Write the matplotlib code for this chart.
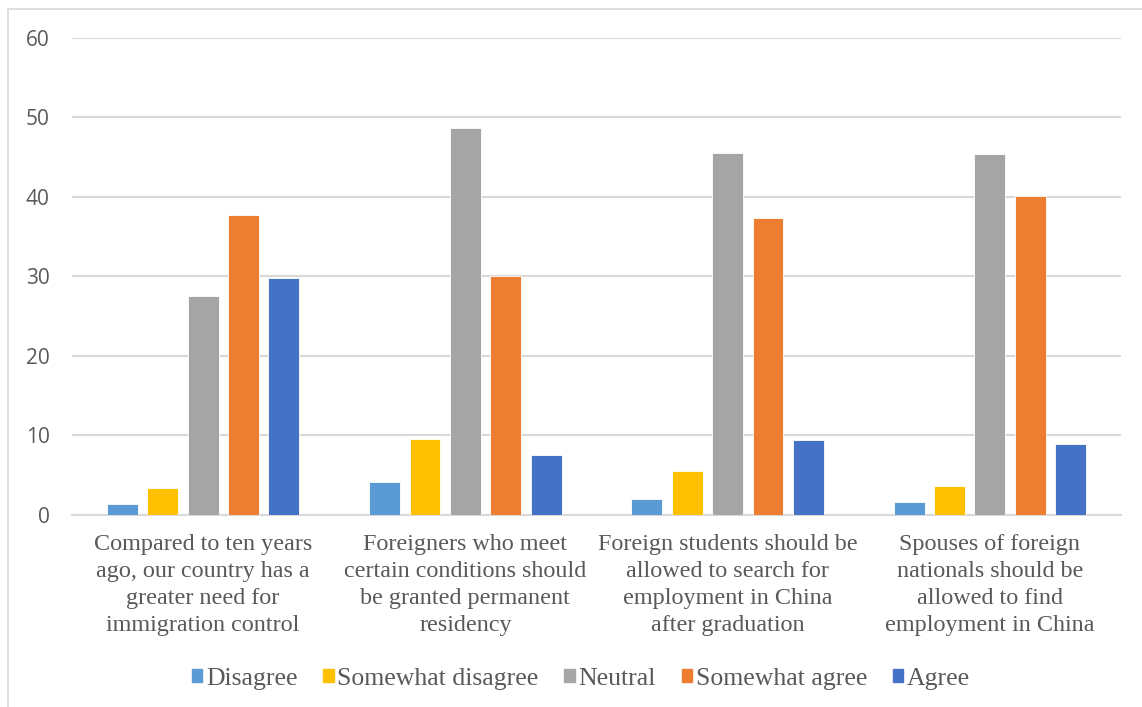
import matplotlib
matplotlib.use("Agg")
import matplotlib.pyplot as plt
from matplotlib.patches import Rectangle
from matplotlib.lines import Line2D
import numpy as np

categories = [
    "Compared to ten years\nago, our country has a\ngreater need for\nimmigration control",
    "Foreigners who meet\ncertain conditions should\nbe granted permanent\nresidency",
    "Foreign students should be\nallowed to search for\nemployment in China\nafter graduation",
    "Spouses of foreign\nnationals should be\nallowed to find\nemployment in China",
]
series_names = ["Disagree", "Somewhat disagree", "Neutral", "Somewhat agree", "Agree"]
disagree = [1.4, 4.1, 2.0, 1.6]
somewhat_disagree = [3.4, 9.6, 5.5, 3.7]
neutral = [27.5, 48.6, 45.5, 45.4]
somewhat_agree = [37.7, 30.0, 37.3, 40.1]
agree = [29.8, 7.5, 9.4, 8.9]
y_ticks = [0, 10, 20, 30, 40, 50, 60]

series_values = [disagree, somewhat_disagree, neutral, somewhat_agree, agree]
colors = ["#5B9BD5", "#FFC000", "#A5A5A5", "#ED7D31", "#4472C4"]

W, H = 1142, 707
fig = plt.figure(figsize=(W / 100, H / 100), dpi=100)
fig.patch.set_facecolor("white")

# chart-area frame (top and left edges)
frame_col = "#D9D9D9"
fig.add_artist(Line2D([8 / W, 1.0], [1 - 9 / H, 1 - 9 / H], color=frame_col, lw=1.2,
                      transform=fig.transFigure))
fig.add_artist(Line2D([8 / W, 8 / W], [0, 1 - 9 / H], color=frame_col, lw=1.2,
                      transform=fig.transFigure))

ax = fig.add_axes([72 / W, 1 - 515 / H, (1121 - 72) / W, (515 - 37.5) / H])

x = np.arange(len(categories))
bar_w = 0.118
pitch = 0.154
for i, (name, vals, c) in enumerate(zip(series_names, series_values, colors)):
    ax.bar(x + (i - 2) * pitch, vals, width=bar_w, color=c, edgecolor="white",
           linewidth=0.6, label=name, zorder=3)

ax.set_xlim(-0.5, len(categories) - 0.5)
ax.set_ylim(0, 60)
ax.set_yticks(y_ticks)
ax.yaxis.grid(True, color="#D9D9D9", linewidth=1.5, zorder=0)
ax.set_axisbelow(True)
for s in ["top", "right", "left"]:
    ax.spines[s].set_visible(False)
ax.spines["bottom"].set_color("#D9D9D9")
ax.spines["bottom"].set_linewidth(1.5)
ax.tick_params(axis="both", length=0, colors="#595959")
ax.tick_params(axis="y", pad=16)
for lbl in ax.get_yticklabels():
    lbl.set_fontfamily("Open Sans")
    lbl.set_fontsize(15)
    lbl.set_color("#595959")

ax.set_xticks(x)
ax.set_xticklabels(categories, fontfamily="Liberation Serif", fontsize=17.4,
                   color="#595959", linespacing=1.36)
ax.tick_params(axis="x", pad=14)

handles = [Rectangle((0, 0), 1, 1, color=c) for c in colors]
leg = fig.legend(handles, series_names, loc="center", bbox_to_anchor=(581 / W, 1 - 679 / H),
                 ncol=5, frameon=False, handlelength=0.4, handleheight=0.4,
                 handletextpad=0.15, columnspacing=1.0,
                 prop={"family": "Liberation Serif", "size": 18.5})
for t in leg.get_texts():
    t.set_color("#595959")

fig.savefig("out.png", dpi=100, facecolor="white")
